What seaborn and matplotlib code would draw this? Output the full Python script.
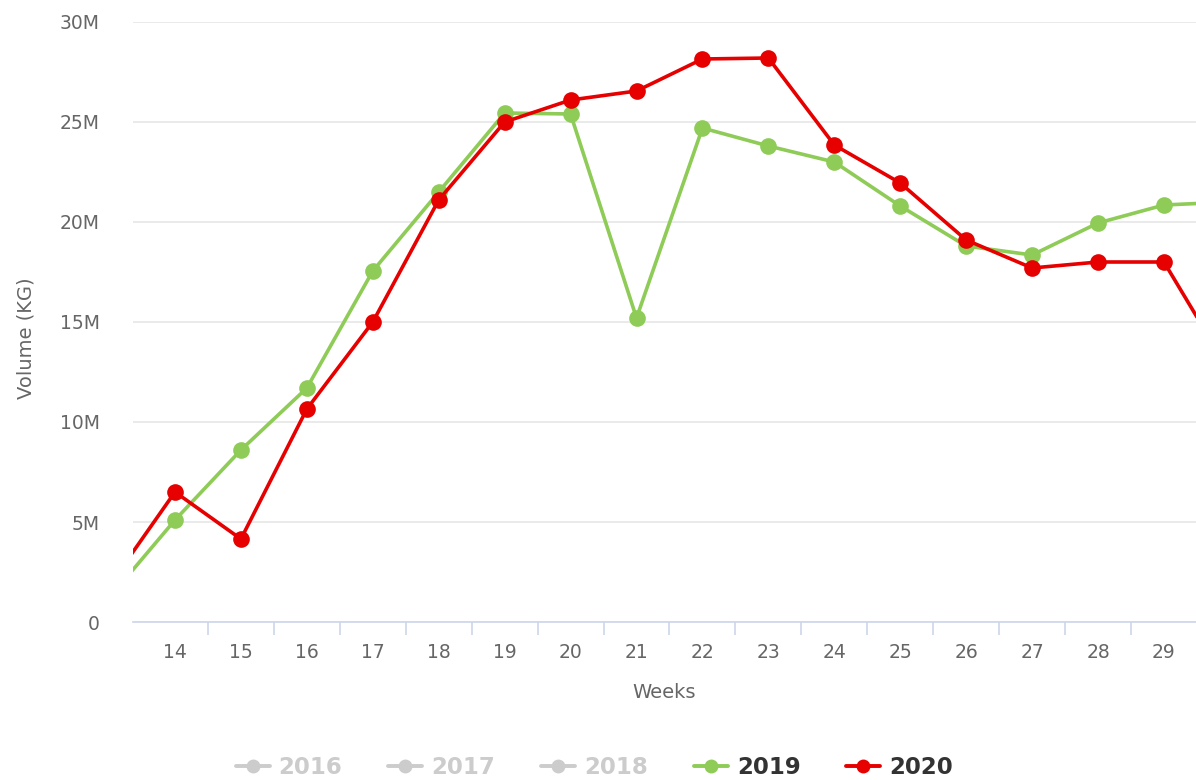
import matplotlib
matplotlib.use("Agg")
import matplotlib.pyplot as plt
from matplotlib.lines import Line2D
from matplotlib.ticker import FuncFormatter, MultipleLocator
import seaborn as sns
import pandas as pd

weeks = [13, 14, 15, 16, 17, 18, 19, 20, 21, 22, 23, 24, 25, 26, 27, 28, 29, 30]
week_labels = [str(w) for w in range(14, 30)]
vol_2019 = [1.2, 5.1, 8.6, 11.7, 17.55, 21.5, 25.45, 25.4, 15.2, 24.7, 23.8, 23.0,
            20.8, 18.8, 18.35, 19.95, 20.85, 21.0]
vol_2020 = [1.8, 6.5, 4.15, 10.65, 15.0, 21.1, 25.0, 26.1, 26.55, 28.15, 28.2, 23.85,
            21.95, 19.1, 17.7, 18.0, 18.0, 12.5]
legend_years = ["2016", "2017", "2018", "2019", "2020"]
visible_years = ["2019", "2020"]

green = "#8ecb57"
red = "#e60000"
grey_txt = "#666666"

sns.set_theme(style="white")
plt.rcParams["font.family"] = ["DejaVu Sans"]

fig = plt.figure(figsize=(11.96, 7.8), dpi=100)
ax = fig.add_axes([133/1196, 158/780, 1 - 133/1196, 600/780])

df = pd.DataFrame({
    "week": weeks * 2,
    "vol": [v * 1e6 for v in vol_2019] + [v * 1e6 for v in vol_2020],
    "year": ["2019"] * len(weeks) + ["2020"] * len(weeks),
})
sns.lineplot(data=df, x="week", y="vol", hue="year", palette={"2019": green, "2020": red},
             marker="o", markersize=12, markeredgewidth=0, linewidth=2.6,
             ax=ax, legend=False, clip_on=True)

ax.set_xlim(13.363, 29.486)
ax.set_ylim(0, 30e6)
ax.yaxis.set_major_locator(MultipleLocator(5e6))
ax.yaxis.set_major_formatter(FuncFormatter(lambda v, p: "0" if v == 0 else f"{int(v/1e6)}M"))
ax.grid(axis="y", color="#e6e6e6", linewidth=1.2)
ax.set_axisbelow(True)
for s in ["top", "right", "left"]:
    ax.spines[s].set_visible(False)
ax.spines["bottom"].set_color("#ccd6eb")
ax.spines["bottom"].set_linewidth(1.2)

ax.set_xticks(range(14, 30))
ax.set_xticklabels(week_labels)
ax.set_xticks([w + 0.5 for w in range(14, 29)], minor=True)
ax.tick_params(axis="x", which="major", length=0, pad=15, labelsize=13.5, labelcolor=grey_txt)
ax.tick_params(axis="x", which="minor", length=9, width=1.2, color="#ccd6eb", bottom=True)
ax.tick_params(axis="y", length=0, pad=24, labelsize=13.5, labelcolor=grey_txt)

ax.set_xlabel("Weeks", fontsize=14, color=grey_txt, labelpad=15)
ax.set_ylabel("Volume (KG)", fontsize=14, color=grey_txt, labelpad=0)
ax.yaxis.set_label_coords(-97/1063, 0.473)

handles = []
colors = {"2019": green, "2020": red}
for y in legend_years:
    c = colors.get(y, "#cccccc")
    handles.append(Line2D([0], [0], color=c, marker="o", markersize=10, linewidth=2.8,
                          markeredgewidth=0))
leg = fig.legend(handles, legend_years, loc="center", bbox_to_anchor=(0.497, 12/780),
                 ncol=5, frameon=False, handlelength=1.48, handletextpad=0.4,
                 columnspacing=2.0, prop={"weight": "bold", "size": 16.5})
for t, y in zip(leg.get_texts(), legend_years):
    t.set_color("#333333" if y in visible_years else "#cccccc")

fig.savefig("out.png", dpi=100)
